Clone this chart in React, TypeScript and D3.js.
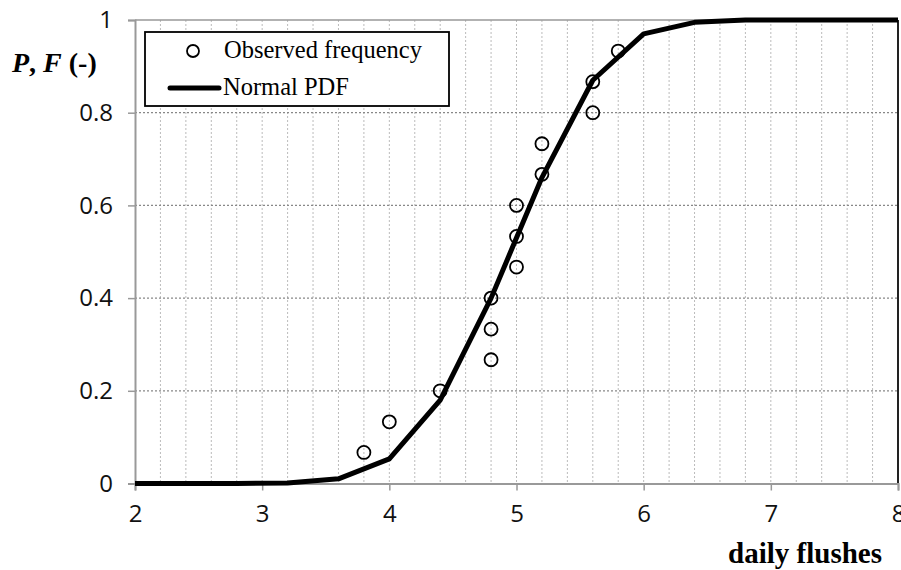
import React, { useEffect, useRef } from 'react';
import * as d3 from 'd3';

// observed cumulative frequency (i/15)
const obsX = [3.8, 4.0, 4.4, 4.8, 4.8, 4.8, 5.0, 5.0, 5.0, 5.2, 5.2, 5.6, 5.6, 5.8];
const obsY = [0.067, 0.133, 0.2, 0.267, 0.333, 0.4, 0.467, 0.533, 0.6, 0.667, 0.733, 0.8, 0.867, 0.933];

// fitted normal curve
const curveX = [2.0, 2.4, 2.8, 3.2, 3.6, 4.0, 4.4, 4.8, 5.2, 5.6, 6.0, 6.4, 6.8, 7.2, 7.6, 8.0];
const curveY = [0, 0, 0, 0.001, 0.01, 0.053, 0.18, 0.4, 0.66, 0.87, 0.97, 0.995, 1, 1, 1, 1];

const xTicks = [2, 3, 4, 5, 6, 7, 8];
const yTicks = [0, 0.2, 0.4, 0.6, 0.8, 1];

const W = 901;
const H = 570;

export default function App() {
  const svgRef = useRef<SVGSVGElement>(null);

  useEffect(() => {
    if (!svgRef.current) return;
    const svg = d3.select(svgRef.current);
    svg.selectAll('*').remove();

    const left = 135, right = 898, top = 20, bottom = 483.5;
    const x = d3.scaleLinear().domain([2, 8]).range([left, right]);
    const y = d3.scaleLinear().domain([0, 1]).range([bottom, top]);

    svg.append('rect').attr('width', W).attr('height', H).attr('fill', '#fff');

    // vertical minor grid every 0.2
    const vgrid = d3.range(22, 80, 2).map((d) => d / 10);
    svg.append('g')
      .selectAll('line')
      .data(vgrid)
      .enter()
      .append('line')
      .attr('x1', (d) => x(d))
      .attr('x2', (d) => x(d))
      .attr('y1', top)
      .attr('y2', bottom)
      .attr('stroke', '#bbb')
      .attr('stroke-width', 1)
      .attr('stroke-dasharray', '2,2');

    // horizontal grid
    svg.append('g')
      .selectAll('line')
      .data([0.2, 0.4, 0.6, 0.8])
      .enter()
      .append('line')
      .attr('x1', left)
      .attr('x2', right)
      .attr('y1', (d) => y(d))
      .attr('y2', (d) => y(d))
      .attr('stroke', '#888')
      .attr('stroke-width', 1.2)
      .attr('stroke-dasharray', '2,2');

    // frame
    svg.append('line').attr('x1', left).attr('x2', right).attr('y1', top).attr('y2', top)
      .attr('stroke', '#999').attr('stroke-width', 1.5);
    svg.append('line').attr('x1', right).attr('x2', right).attr('y1', top).attr('y2', bottom)
      .attr('stroke', '#222').attr('stroke-width', 2);

    // axes
    const xAxis = svg.append('g')
      .attr('transform', `translate(0,${bottom})`)
      .call(d3.axisBottom(x).tickValues(xTicks).tickSize(7).tickPadding(14).tickFormat(d3.format('d')));
    xAxis.select('.domain').attr('stroke', '#999').attr('stroke-width', 2);
    xAxis.selectAll('.tick line').attr('stroke', '#999').attr('stroke-width', 1.5);
    xAxis.selectAll('text')
      .style('font-family', '"Open Sans", sans-serif')
      .style('font-size', '24px')
      .style('fill', '#111');

    const yAxis = svg.append('g')
      .attr('transform', `translate(${left},0)`)
      .call(d3.axisLeft(y).tickValues(yTicks).tickSize(7).tickPadding(15).tickFormat((d) => String(d)));
    yAxis.select('.domain').attr('stroke', '#999').attr('stroke-width', 2);
    yAxis.selectAll('.tick line').attr('stroke', '#999').attr('stroke-width', 1.5);
    yAxis.selectAll('text')
      .style('font-family', '"Open Sans", sans-serif')
      .style('font-size', '24px')
      .style('fill', '#111');

    // normal curve
    const line = d3.line<number>()
      .x((_, i) => x(curveX[i]))
      .y((d) => y(d));
    svg.append('path')
      .datum(curveY)
      .attr('d', line)
      .attr('fill', 'none')
      .attr('stroke', '#000')
      .attr('stroke-width', 5)
      .attr('stroke-linejoin', 'round');

    // observed points
    svg.append('g')
      .selectAll('circle')
      .data(obsY)
      .enter()
      .append('circle')
      .attr('cx', (_, i) => x(obsX[i]))
      .attr('cy', (d) => y(d))
      .attr('r', 6.5)
      .attr('fill', 'none')
      .attr('stroke', '#000')
      .attr('stroke-width', 1.8);

    // legend
    const lg = svg.append('g');
    lg.append('rect')
      .attr('x', 145).attr('y', 32).attr('width', 304).attr('height', 74)
      .attr('fill', '#fff').attr('stroke', '#000').attr('stroke-width', 1.8);
    lg.append('circle').attr('cx', 193).attr('cy', 51).attr('r', 6)
      .attr('fill', 'none').attr('stroke', '#000').attr('stroke-width', 1.8);
    lg.append('text').attr('x', 224).attr('y', 58)
      .style('font-family', '"Liberation Serif", serif').style('font-size', '24.5px')
      .text('Observed frequency');
    lg.append('line').attr('x1', 170).attr('x2', 219).attr('y1', 88).attr('y2', 88)
      .attr('stroke', '#000').attr('stroke-width', 5).attr('stroke-linecap', 'round');
    lg.append('text').attr('x', 223).attr('y', 95)
      .style('font-family', '"Liberation Serif", serif').style('font-size', '24.5px')
      .text('Normal PDF');

    // axis titles
    const yl = svg.append('text').attr('x', 12).attr('y', 72)
      .style('font-family', '"Liberation Serif", serif').style('font-size', '28px')
      .style('font-weight', 'bold');
    yl.append('tspan').style('font-style', 'italic').text('P');
    yl.append('tspan').text(', ');
    yl.append('tspan').style('font-style', 'italic').text('F');
    yl.append('tspan').text(' (-)');

    svg.append('text').attr('x', 882).attr('y', 563)
      .attr('text-anchor', 'end')
      .style('font-family', '"Liberation Serif", serif').style('font-size', '29px')
      .style('font-weight', 'bold')
      .text('daily flushes');
  }, []);

  return (
    <svg
      ref={svgRef}
      width={W}
      height={H}
      style={{ position: 'absolute', left: 0, top: 0, display: 'block' }}
    />
  );
}
